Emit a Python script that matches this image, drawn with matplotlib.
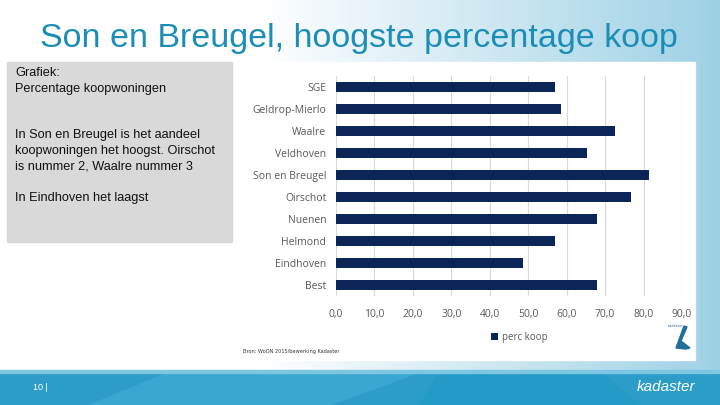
import numpy as np
import matplotlib.pyplot as plt
from matplotlib.patches import Rectangle, Polygon

# data
gemeenten = ['SGE', 'Geldrop-Mierlo', 'Waalre', 'Veldhoven', 'Son en Breugel',
             'Oirschot', 'Nuenen', 'Helmond', 'Eindhoven', 'Best']
perc_koop = [56.9, 58.6, 72.7, 65.3, 81.5, 76.7, 67.8, 56.9, 48.7, 68.0]
xticks = [0, 10, 20, 30, 40, 50, 60, 70, 80, 90]

title = 'Son en Breugel, hoogste percentage koop'
side_lines = ['Grafiek:', 'Percentage koopwoningen', '', '',
              'In Son en Breugel is het aandeel',
              'koopwoningen het hoogst. Oirschot',
              'is nummer 2, Waalre nummer 3', '',
              'In Eindhoven het laagst']

W, H = 720, 405
fig = plt.figure(figsize=(7.2, 4.05), dpi=100)

# slide background
bg = fig.add_axes([0, 0, 1, 1])
bg.set_xlim(0, W)
bg.set_ylim(H, 0)
bg.axis('off')
xs = np.linspace(0, 1, W)
t = np.clip((xs - 0.36) / 0.64, 0, 1)[None, :, None]
white = np.array([1.0, 1.0, 1.0])
blue = np.array([0.62, 0.82, 0.90])
grad = white * (1 - t) + blue * t
grad = np.repeat(grad, 2, axis=0)
bg.imshow(grad, extent=[0, W, H, 0], aspect='auto', zorder=0)

# bottom band
bg.add_patch(Rectangle((0, 372), W, 33, color='#2c9cc8', zorder=1))
bg.add_patch(Polygon([[90, 405], [170, 372], [420, 372], [330, 405]],
                     closed=True, color='#3aa7d1', zorder=1))
bg.add_patch(Polygon([[420, 405], [440, 372], [600, 372], [640, 405]],
                     closed=True, color='#249ac6', zorder=1))
bg.add_patch(Rectangle((0, 370), W, 2.5, color='#7cc6e2', zorder=1))
bg.text(33, 388, '10 |', color='white', fontsize=6.5, va='center',
        family='Liberation Sans', zorder=3)
bg.text(695, 387, 'kadaster', color='white', fontsize=11, va='center', ha='right',
        style='italic', family='Liberation Sans', zorder=3)

# title
bg.text(359, 39, title, color='#1b8db7', fontsize=24.5, ha='center', va='center',
        family='Liberation Sans', zorder=3)

# grey text box
bg.add_patch(Rectangle((7, 62), 225, 180, color='#d9d9d9', zorder=1))
for i, line in enumerate(side_lines):
    bg.text(15, 73 + i * 15.6, line, fontsize=9.2, va='center',
            family='Liberation Sans', color='#111111', zorder=3)

# white chart panel
bg.add_patch(Rectangle((238, 62), 457, 298, color='white', zorder=1))
bg.text(243, 351, 'Bron: WoON 2015/bewerking Kadaster', fontsize=3.6,
        color='#333333', va='center', zorder=3)
# small logo
bg.add_patch(Polygon([[676, 348], [684, 326], [687, 327], [681, 341], [690, 348], [686, 349]],
                     closed=True, color='#1f6f9b', zorder=3))
bg.text(668, 326, 'kadaster', fontsize=2.5, color='#1f6f9b', va='center', zorder=3)

# bar chart
ax = fig.add_axes([336 / W, 1 - 296 / H, (682 - 336) / W, (296 - 76) / H])
ax.set_facecolor('none')
y = np.arange(len(gemeenten))
ax.barh(y, perc_koop, height=0.42, color='#0b2559', zorder=3, label='perc koop')
ax.set_ylim(len(gemeenten) - 0.5, -0.5)
ax.set_xlim(0, 90)
ax.set_yticks(y)
ax.set_yticklabels(gemeenten)
ax.set_xticks(xticks)
ax.set_xticklabels([f'{v:.1f}'.replace('.', ',') for v in xticks])
ax.grid(axis='x', color='#d9d9d9', linewidth=0.8, zorder=0)
for s in ax.spines.values():
    s.set_visible(False)
ax.tick_params(length=0, labelsize=7.5, labelcolor='#595959', pad=7)
ax.tick_params(axis='x', pad=9)
for lbl in ax.get_xticklabels() + ax.get_yticklabels():
    lbl.set_family('Open Sans')
ax.legend(loc='center', bbox_to_anchor=(0.53, -0.19), frameon=False,
          prop={'family': 'Open Sans', 'size': 7}, labelcolor='#595959',
          handlelength=0.7, handleheight=0.7, handletextpad=0.4)

fig.savefig('out.png', dpi=100)
